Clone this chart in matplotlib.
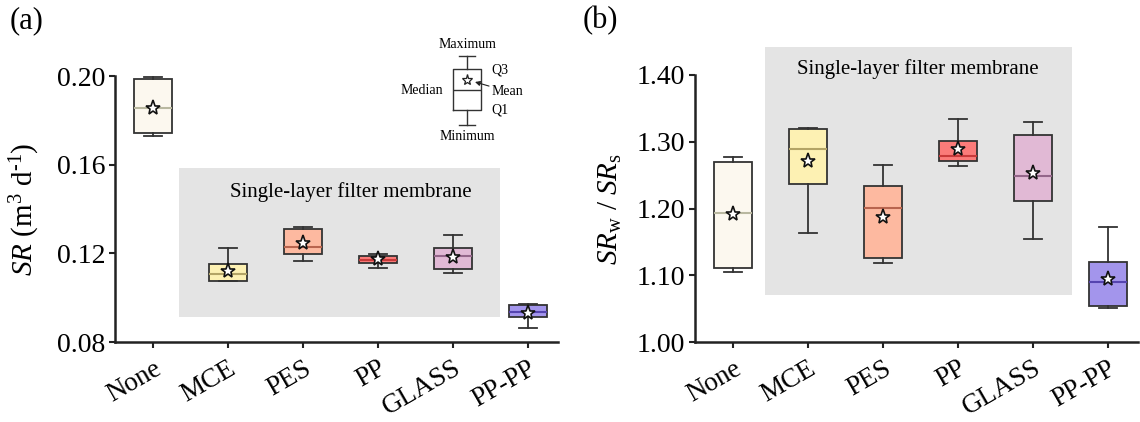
import matplotlib
matplotlib.use("Agg")
import matplotlib.pyplot as plt
from matplotlib.patches import Rectangle

plt.rcParams['font.family'] = ['Liberation Serif', 'DejaVu Serif']
plt.rcParams['mathtext.fontset'] = 'custom'
plt.rcParams['mathtext.rm'] = 'Liberation Serif'
plt.rcParams['mathtext.it'] = 'Liberation Serif:italic'

# ---------------- data ----------------
categories = ['None', 'MCE', 'PES', 'PP', 'GLASS', 'PP-PP']

sr_min = [0.1730, 0.1075, 0.1166, 0.1133, 0.1113, 0.0863]
sr_q1 = [0.1743, 0.1077, 0.1196, 0.1158, 0.1128, 0.0913]
sr_med = [0.1856, 0.1106, 0.1230, 0.1170, 0.1188, 0.0936]
sr_q3 = [0.1985, 0.1152, 0.1310, 0.1189, 0.1223, 0.0967]
sr_max = [0.1995, 0.1223, 0.1320, 0.1197, 0.1283, 0.0972]
sr_mean = [0.1855, 0.1122, 0.1248, 0.1173, 0.1185, 0.0931]

ratio_min = [1.1054, 1.1633, 1.1184, 1.2632, 1.1539, 1.0505]
ratio_q1 = [1.1104, 1.2367, 1.1263, 1.2716, 1.2112, 1.0544]
ratio_med = [1.1928, 1.2887, 1.2012, 1.2782, 1.2487, 1.0894]
ratio_q3 = [1.2692, 1.3196, 1.2342, 1.3011, 1.3106, 1.1204]
ratio_max = [1.2776, 1.3211, 1.2652, 1.3336, 1.3296, 1.1718]
ratio_mean = [1.1913, 1.2712, 1.1877, 1.2891, 1.2537, 1.0939]

sr_ticks = [0.08, 0.12, 0.16, 0.20]
ratio_ticks = [1.00, 1.10, 1.20, 1.30, 1.40]

# schematic legend box (illustrative, normalised)
legend_stats = dict(whislo=0.15, q1=0.30, med=0.50, q3=0.71, whishi=0.84, mean=0.60)

face_colors = ['#fcf8ef', '#fdf1b3', '#fdb9a0', '#fb7b79', '#e1b9d5', '#a395ec']
median_colors = ['#b9b8a0', '#b3a466', '#b8644e', '#c83a3a', '#94668a', '#5544b0']
edge = '#333333'
shade = '#e4e4e4'

fig = plt.figure(figsize=(11.4, 4.22), dpi=100)
W, H = 1140, 422


def ax_at(x0, x1, ytop, ybot):
    return fig.add_axes([x0 / W, (H - ybot) / H, (x1 - x0) / W, (ybot - ytop) / H])


def make_stats(mn, q1, med, q3, mx, mean):
    return [dict(whislo=a, q1=b, med=c, q3=d, whishi=e, mean=f, fliers=[])
            for a, b, c, d, e, f in zip(mn, q1, med, q3, mx, mean)]


def draw_boxes(ax, stats):
    bp = ax.bxp(stats, positions=range(len(stats)), widths=0.5, patch_artist=True,
                showmeans=True, showfliers=False, capwidths=0.25,
                boxprops=dict(edgecolor=edge, linewidth=1.3),
                whiskerprops=dict(color=edge, linewidth=1.3),
                capprops=dict(color=edge, linewidth=1.3),
                medianprops=dict(linewidth=1.5),
                meanprops=dict(marker='*', markerfacecolor='white', markeredgecolor='#111111',
                               markersize=11, markeredgewidth=1.2))
    for b, fc in zip(bp['boxes'], face_colors):
        b.set_facecolor(fc)
    for m, mc in zip(bp['medians'], median_colors):
        m.set_color(mc)
    for k in ('boxes', 'whiskers', 'caps', 'medians', 'means'):
        for a in bp[k]:
            a.set_clip_on(False)
            a.set_zorder(3)
    return bp


def style_axes(ax):
    for s in ('top', 'right'):
        ax.spines[s].set_visible(False)
    for s in ('left', 'bottom'):
        ax.spines[s].set_linewidth(1.8)
        ax.spines[s].set_color('#222222')
    ax.tick_params(axis='both', direction='out', length=4, width=1.5, color='#222222',
                   labelsize=20, pad=3)
    ax.tick_params(axis='x', pad=6)
    ax.set_xticks(range(len(categories)))
    ax.set_xticklabels(categories, rotation=30, ha='right', rotation_mode='anchor', fontsize=19.5)
    ax.set_xlim(-0.507, 5.4)
    ax.set_facecolor('none')


# ---------------- panel (a) ----------------
axa = ax_at(115, 558, 76, 342)
axa.add_patch(Rectangle((0.35, 0.0913), 4.28, 0.0672, facecolor=shade, edgecolor='none', zorder=0))
draw_boxes(axa, make_stats(sr_min, sr_q1, sr_med, sr_q3, sr_max, sr_mean))
style_axes(axa)
axa.set_ylim(0.08, 0.20)
axa.set_yticks(sr_ticks)
axa.set_yticklabels([f'{t:.2f}' for t in sr_ticks])
axa.set_ylabel(r'$\mathit{SR}$ (m$^3$ d$^{\text{-1}}$)', fontsize=21)
axa.yaxis.set_label_coords(-0.165, 0.5)
axa.text(2.64, 0.1478, 'Single-layer filter membrane', ha='center', va='center', fontsize=15, zorder=2)

# ---------------- panel (b) ----------------
axb = ax_at(695, 1138, 75, 342)
axb.add_patch(Rectangle((0.42, 1.0704), 4.10, 0.372, facecolor=shade, edgecolor='none',
                        zorder=0, clip_on=False))
draw_boxes(axb, make_stats(ratio_min, ratio_q1, ratio_med, ratio_q3, ratio_max, ratio_mean))
style_axes(axb)
axb.set_ylim(1.00, 1.40)
axb.set_yticks(ratio_ticks)
axb.set_yticklabels([f'{t:.2f}' for t in ratio_ticks])
axb.set_ylabel(r'$\mathit{SR}_{\mathrm{w}}$ / $\mathit{SR}_{\mathrm{s}}$', fontsize=21)
axb.yaxis.set_label_coords(-0.16, 0.5)
axb.text(2.47, 1.4085, 'Single-layer filter membrane', ha='center', va='center', fontsize=15,
         zorder=2, clip_on=False)

# ---------------- schematic legend ----------------
axl = ax_at(427, 507, 40, 140)
axl.set_xlim(-0.5, 0.5)
axl.set_ylim(0, 1)
axl.axis('off')
axl.bxp([dict(legend_stats, fliers=[])], positions=[0], widths=0.35, capwidths=0.2,
        showmeans=True, showfliers=False,
        boxprops=dict(color='#333333', linewidth=1.0),
        whiskerprops=dict(color='#333333', linewidth=1.0),
        capprops=dict(color='#333333', linewidth=1.0),
        medianprops=dict(color='#333333', linewidth=1.0),
        meanprops=dict(marker='*', markerfacecolor='white', markeredgecolor='#222222',
                       markersize=8, markeredgewidth=0.9))
lfs = 10
axl.text(0, 0.95, 'Maximum', ha='center', va='center', fontsize=lfs)
axl.text(0, 0.04, 'Minimum', ha='center', va='center', fontsize=lfs)
axl.text(-0.30, 0.50, 'Median', ha='right', va='center', fontsize=lfs)
axl.text(0.31, 0.70, 'Q3', ha='left', va='center', fontsize=lfs)
axl.text(0.31, 0.30, 'Q1', ha='left', va='center', fontsize=lfs)
axl.annotate('Mean', xy=(0.10, 0.58), xytext=(0.31, 0.485), ha='left', va='center', fontsize=lfs,
             arrowprops=dict(arrowstyle='-|>', color='#222222', lw=0.8, mutation_scale=7,
                             shrinkA=0, shrinkB=0))

# panel letters
fig.text(10 / W, 1 - 6 / H, '(a)', ha='left', va='top', fontsize=22)
fig.text(583 / W, 1 - 6 / H, '(b)', ha='left', va='top', fontsize=22)

fig.savefig('out.png', dpi=100)
